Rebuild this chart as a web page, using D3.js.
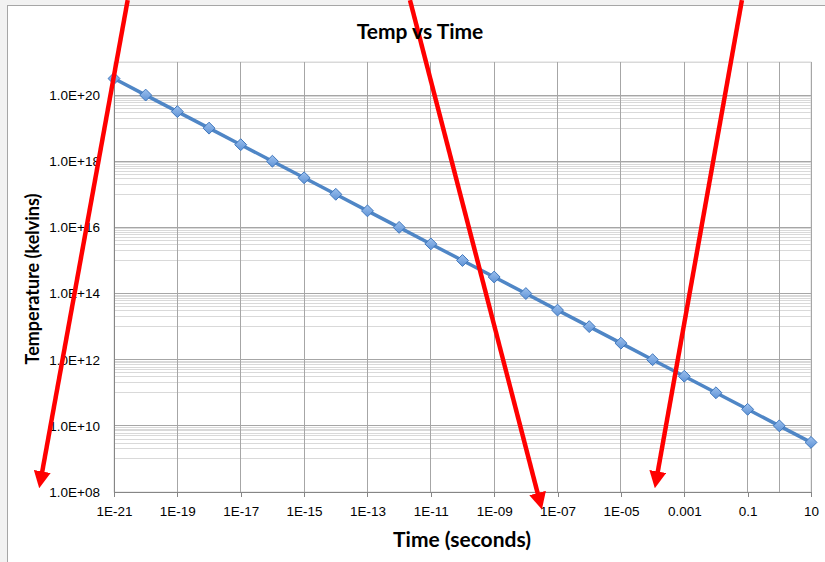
<!DOCTYPE html>
<meta charset="utf-8">
<style>

body {
  margin: 0;
  background: #f2f2f2;
}

svg {
  font-family: Lato, "Open Sans", sans-serif;
}

.grid-major line {
  stroke: #a6a6a6;
  stroke-width: 1px;
  shape-rendering: crispEdges;
}

.grid-minor line {
  stroke: #d9d9d9;
  stroke-width: 1px;
  shape-rendering: crispEdges;
}

.axis path, .axis line {
  fill: none;
  stroke: #868686;
  shape-rendering: crispEdges;
}

.axis text {
  font-size: 13.5px;
  fill: #000;
}

path.line {
  fill: none;
  stroke: #4f86c6;
  stroke-width: 3.5px;
}

.arrow {
  stroke: #ff0000;
  stroke-width: 4.5px;
}

</style>

<div id="chart"></div>
<script src="https://d3js.org/d3.v7.min.js"></script>
<script>

// time (s) and temperature (K), one point per decade
var times = [1e-21, 1e-20, 1e-19, 1e-18, 1e-17, 1e-16, 1e-15, 1e-14, 1e-13, 1e-12,
  1e-11, 1e-10, 1e-9, 1e-8, 1e-7, 1e-6, 1e-5, 1e-4, 1e-3, 1e-2, 1e-1, 1, 10];
var temps = [3.16e20, 1e20, 3.16e19, 1e19, 3.16e18, 1e18, 3.16e17, 1e17, 3.16e16, 1e16,
  3.16e15, 1e15, 3.16e14, 1e14, 3.16e13, 1e13, 3.16e12, 1e12, 3.16e11, 1e11, 3.16e10, 1e10, 3.16e9];

// axis ticks (base 100 log axes)
var xTicks = [1e-21, 1e-19, 1e-17, 1e-15, 1e-13, 1e-11, 1e-9, 1e-7, 1e-5, 1e-3, 1e-1, 10];
var xTickLabels = ["1E-21", "1E-19", "1E-17", "1E-15", "1E-13", "1E-11", "1E-09", "1E-07", "1E-05", "0.001", "0.1", "10"];
var xGrid = [1e-21, 1e-19, 1e-17, 1e-15, 1e-13, 1e-11, 1e-9, 1e-7, 1e-5, 1e-3, 1e-1, 1, 10];
var yTicks = [1e8, 1e10, 1e12, 1e14, 1e16, 1e18, 1e20];
var yTickLabels = ["1.0E+08", "1.0E+10", "1.0E+12", "1.0E+14", "1.0E+16", "1.0E+18", "1.0E+20"];
var yMinorSteps = [1, 2, 3, 4, 5, 6, 7, 8, 9];

// red annotation arrows, in data units: [time, temp] start -> end
var arrows = [
  [[2.7e-21, 7.4e22], [5.2e-24, 3.3e8]],
  [[2.2e-12, 7.4e22], [2.5e-8, 7.4e7]],
  [[0.066, 7.4e22], [1.4e-4, 3.3e8]]
];

var W = 825, H = 562;
var margin = {top: 62, right: 14, bottom: 70, left: 114};
var width = W - margin.left - margin.right,
    height = H - margin.top - margin.bottom;

var x = d3.scaleLog().domain([1e-21, 10]).range([0, width]);
var y = d3.scaleLog().domain([1e8, 1e21]).range([height, 0]);

var svg = d3.select("#chart").append("svg")
  .attr("width", W)
  .attr("height", H);

// chart frame
svg.append("rect")
  .attr("x", 7.5)
  .attr("y", 5.5)
  .attr("width", W)
  .attr("height", H)
  .style("fill", "#fff")
  .style("stroke", "#a6a6a6");

var g = svg.append("g")
  .attr("transform", "translate(" + margin.left + "," + margin.top + ")");

// plot border
g.append("rect")
  .attr("width", width)
  .attr("height", height)
  .style("fill", "none")
  .style("stroke", "#d9d9d9");

// minor horizontal gridlines at k * 10^(odd)
var minorVals = [];
yTicks.forEach(function(t) {
  yMinorSteps.forEach(function(k) { minorVals.push(t * 10 * k); });
});
minorVals = minorVals.filter(function(v) { return v <= 1e21; });

g.append("g")
  .attr("class", "grid-minor")
  .selectAll("line")
  .data(minorVals)
  .enter().append("line")
  .attr("x1", 0)
  .attr("x2", width)
  .attr("y1", function(d) { return y(d); })
  .attr("y2", function(d) { return y(d); });

// major gridlines
var major = g.append("g").attr("class", "grid-major");
major.selectAll("line.h")
  .data(yTicks)
  .enter().append("line")
  .attr("class", "h")
  .attr("x1", 0)
  .attr("x2", width)
  .attr("y1", function(d) { return y(d); })
  .attr("y2", function(d) { return y(d); });
major.selectAll("line.v")
  .data(xGrid)
  .enter().append("line")
  .attr("class", "v")
  .attr("x1", function(d) { return x(d); })
  .attr("x2", function(d) { return x(d); })
  .attr("y1", 0)
  .attr("y2", height);

// axes
var xAxis = d3.axisBottom(x)
  .tickValues(xTicks)
  .tickSize(5)
  .tickSizeOuter(0)
  .tickFormat(function(d, i) { return xTickLabels[i]; });
var yAxis = d3.axisLeft(y)
  .tickValues(yTicks)
  .tickSize(0)
  .tickSizeOuter(0)
  .tickFormat(function(d, i) { return yTickLabels[i]; });

g.append("g")
  .attr("class", "x axis")
  .attr("transform", "translate(0," + height + ")")
  .call(xAxis)
  .selectAll("text")
  .attr("dy", "1.2em");

g.append("g")
  .attr("class", "y axis")
  .call(yAxis)
  .selectAll("text")
  .attr("x", -14);

// the series
var data = times.map(function(t, i) { return {time: t, temp: temps[i]}; });

var line = d3.line()
  .x(function(d) { return x(d.time); })
  .y(function(d) { return y(d.temp); });

g.append("path")
  .datum(data)
  .attr("class", "line")
  .attr("d", line);

var grad = svg.append("defs").append("linearGradient")
  .attr("id", "dia")
  .attr("x1", 0).attr("y1", 0).attr("x2", 0).attr("y2", 1);
grad.append("stop").attr("offset", "0%").attr("stop-color", "#9cc0ee");
grad.append("stop").attr("offset", "100%").attr("stop-color", "#5f93d6");

g.selectAll(".dot")
  .data(data)
  .enter().append("path")
  .attr("class", "dot")
  .attr("d", d3.symbol().type(d3.symbolDiamond2).size(90))
  .attr("transform", function(d) { return "translate(" + x(d.time) + "," + y(d.temp) + ")"; })
  .style("fill", "url(#dia)")
  .style("stroke", "#3f77bd")
  .style("stroke-width", 1);

// titles
svg.append("text")
  .attr("x", 420)
  .attr("y", 39)
  .attr("text-anchor", "middle")
  .style("font-size", "21px")
  .style("font-weight", "bold")
  .text("Temp vs Time");

svg.append("text")
  .attr("x", 462)
  .attr("y", 547)
  .attr("text-anchor", "middle")
  .style("font-size", "21px")
  .style("font-weight", "bold")
  .text("Time (seconds)");

svg.append("text")
  .attr("transform", "translate(39,279) rotate(-90)")
  .attr("text-anchor", "middle")
  .style("font-size", "18px")
  .style("font-weight", "bold")
  .text("Temperature (kelvins)");

// red arrows drawn over everything
svg.append("defs").append("marker")
  .attr("id", "head")
  .attr("viewBox", "0 0 10 10")
  .attr("refX", 2)
  .attr("refY", 5)
  .attr("markerWidth", 3.8)
  .attr("markerHeight", 3.8)
  .attr("orient", "auto")
  .append("path")
  .attr("d", "M0,0L10,5L0,10Z")
  .style("fill", "#ff0000");

g.selectAll(".arrow")
  .data(arrows)
  .enter().append("line")
  .attr("class", "arrow")
  .attr("x1", function(d) { return x(d[0][0]); })
  .attr("y1", function(d) { return y(d[0][1]); })
  .attr("x2", function(d) { return x(d[1][0]); })
  .attr("y2", function(d) { return y(d[1][1]); })
  .attr("marker-end", "url(#head)");

</script>
